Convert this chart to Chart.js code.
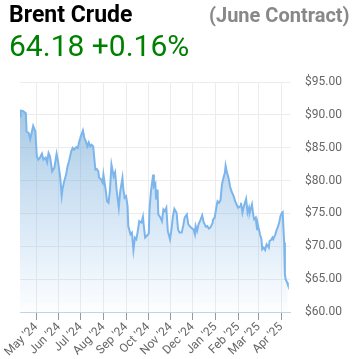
<!DOCTYPE html>
<html>
<head>
<meta charset="utf-8">
<script src="https://cdn.jsdelivr.net/npm/chart.js@4/dist/chart.umd.min.js"></script>
<style>
  html, body { margin: 0; padding: 0; background: #fff; }
  #wrap { position: relative; width: 355px; height: 359px; overflow: hidden; }
  #chart { position: absolute; left: 0; top: 0; }
  .title { position: absolute; font-family: Roboto, sans-serif; white-space: nowrap; line-height: 1; }
  #name { left: 9px; top: 3px; font-size: 23px; font-weight: bold; color: #000; }
  #contract { left: 209px; top: 5px; font-size: 20px; font-weight: bold; color: #888; }
  #price { left: 9px; top: 31px; font-size: 30px; color: #008000; }
</style>
</head>
<body>
<div id="wrap">
  <canvas id="chart" width="355" height="359"></canvas>
  <div class="title" id="name">Brent Crude</div>
  <div class="title" id="contract">(June Contract)</div>
  <div class="title" id="price">64.18 +0.16%</div>
</div>
<script>
// Daily closes, June Brent contract
const dates = [
  '2024-04-09','2024-04-10','2024-04-13','2024-04-17','2024-04-18','2024-04-21','2024-04-23','2024-04-27','2024-04-30',
  '2024-05-02','2024-05-04','2024-05-06','2024-05-09','2024-05-11','2024-05-14','2024-05-16','2024-05-18','2024-05-20',
  '2024-05-23','2024-05-26','2024-05-29','2024-05-31',
  '2024-06-03','2024-06-05','2024-06-06','2024-06-08','2024-06-11','2024-06-13','2024-06-15','2024-06-18','2024-06-20',
  '2024-06-22','2024-06-25','2024-06-27','2024-06-29',
  '2024-07-01','2024-07-04','2024-07-06','2024-07-08','2024-07-10','2024-07-12','2024-07-14','2024-07-16','2024-07-18',
  '2024-07-21','2024-07-23','2024-07-25','2024-07-26','2024-07-29','2024-07-31',
  '2024-08-01','2024-08-04','2024-08-06','2024-08-08','2024-08-10','2024-08-12','2024-08-15','2024-08-17','2024-08-19',
  '2024-08-22','2024-08-24','2024-08-27','2024-08-28','2024-08-30',
  '2024-09-01','2024-09-03','2024-09-04','2024-09-07','2024-09-09','2024-09-11','2024-09-13','2024-09-15','2024-09-17',
  '2024-09-19','2024-09-22','2024-09-24','2024-09-25','2024-09-27','2024-09-30',
  '2024-10-02','2024-10-03','2024-10-05','2024-10-08','2024-10-09','2024-10-11','2024-10-12','2024-10-14','2024-10-15',
  '2024-10-18','2024-10-20','2024-10-22','2024-10-24','2024-10-26','2024-10-28','2024-10-31',
  '2024-11-02','2024-11-04','2024-11-06','2024-11-09','2024-11-11','2024-11-13','2024-11-16','2024-11-18','2024-11-20',
  '2024-11-23','2024-11-25','2024-11-27','2024-11-29',
  '2024-12-02','2024-12-04','2024-12-05','2024-12-07','2024-12-09','2024-12-12','2024-12-14','2024-12-16','2024-12-19',
  '2024-12-21','2024-12-23','2024-12-25','2024-12-28','2024-12-29','2024-12-31',
  '2025-01-03','2025-01-04','2025-01-06','2025-01-08','2025-01-10','2025-01-12','2025-01-14','2025-01-15','2025-01-17',
  '2025-01-19','2025-01-21','2025-01-23','2025-01-26','2025-01-28','2025-01-30',
  '2025-02-01','2025-02-04','2025-02-05','2025-02-07','2025-02-09','2025-02-12','2025-02-14','2025-02-16','2025-02-17',
  '2025-02-20','2025-02-22','2025-02-23','2025-02-25','2025-02-27','2025-02-28',
  '2025-03-02','2025-03-03','2025-03-05','2025-03-06','2025-03-08','2025-03-10','2025-03-12','2025-03-15','2025-03-16',
  '2025-03-18','2025-03-20','2025-03-21','2025-03-24','2025-03-26','2025-03-27','2025-03-29','2025-03-31',
  '2025-04-02','2025-04-03','2025-04-05','2025-04-06','2025-04-07','2025-04-09','2025-04-10'
];
const prices = [
  89.74, 90.65, 90.60, 90.26, 87.47, 87.23, 86.32, 88.33, 87.47,
  83.68, 83.18, 83.44, 84.09, 83.18, 83.49, 82.77, 84.20, 83.68,
  81.41, 81.97, 84.09, 82.93,
  80.46, 77.73, 78.64, 79.70, 80.91, 82.17, 82.93, 84.44, 84.96,
  84.70, 85.11, 84.96, 85.96,
  86.71, 87.62, 86.47, 85.96, 85.20, 85.80, 85.20, 85.45, 85.20,
  81.67, 81.77, 81.41, 80.46, 80.15, 79.65,
  80.91, 78.64, 76.86, 76.62, 78.64, 82.42, 80.65, 81.26, 78.64,
  75.87, 78.38, 80.41, 78.89, 77.38,
  77.62, 76.11, 73.08, 71.82, 72.08, 69.44, 71.32, 71.06, 72.32,
  73.83, 73.59, 74.50, 73.33, 71.32, 71.67,
  71.97, 75.61, 78.38, 80.91, 79.14, 79.55, 77.12, 78.64, 74.85,
  74.35, 73.83, 75.61, 75.35, 75.87, 72.32, 71.06,
  72.58, 74.59, 75.71, 75.11, 72.58, 72.08, 72.08, 73.08, 74.35,
  74.85, 73.33, 73.08, 72.83,
  72.58, 71.82, 73.08, 72.32, 73.33, 74.09, 74.70, 73.68, 72.98,
  73.08, 72.68, 72.83, 73.49, 74.09, 74.35,
  76.36, 76.86, 76.62, 77.02, 79.40, 80.41, 81.17, 82.27, 81.17,
  80.41, 79.14, 78.38, 77.62, 76.86, 76.36,
  75.87, 76.11, 76.62, 75.11, 76.11, 77.23, 75.11, 75.87, 75.11,
  76.36, 74.59, 74.09, 74.35, 72.58, 73.33,
  72.32, 71.82, 71.06, 69.55, 69.80, 69.44, 70.30, 69.80, 70.80,
  70.96, 71.32, 71.06, 71.82, 72.58, 72.83, 73.49, 74.59,
  75.11, 75.20, 70.56, 65.76, 65.00, 64.50, 64.18
];
const monthTicks = [
  '2024-05-01','2024-06-01','2024-07-01','2024-08-01','2024-09-01','2024-10-01',
  '2024-11-01','2024-12-01','2025-01-01','2025-02-01','2025-03-01','2025-04-01'
];
const monthNames = ['Jan','Feb','Mar','Apr','May','Jun','Jul','Aug','Sep','Oct','Nov','Dec'];
const yTicks = [60, 65, 70, 75, 80, 85, 90, 95];
const xMin = '2024-04-09';
const xMax = '2025-04-13';

const points = dates.map((d, i) => ({ x: Date.parse(d), y: prices[i] }));

function fillGradient(context) {
  const chart = context.chart;
  const area = chart.chartArea;
  if (!area) return 'rgba(110,165,205,0.4)';
  const g = chart.ctx.createLinearGradient(0, area.top, 0, area.bottom);
  g.addColorStop(0, 'rgba(110,165,205,0.7)');
  g.addColorStop(1, 'rgba(124,181,236,0.02)');
  return g;
}

const ctx = document.getElementById('chart').getContext('2d');
new Chart(ctx, {
  type: 'line',
  data: {
    datasets: [{
      data: points,
      borderColor: '#7cb5ec',
      borderWidth: 2,
      backgroundColor: fillGradient,
      fill: 'start',
      pointRadius: 0,
      tension: 0
    }]
  },
  options: {
    responsive: false,
    animation: false,
    layout: { padding: { top: 82, left: 20, right: 0, bottom: 0 } },
    plugins: { legend: { display: false }, tooltip: { enabled: false } },
    scales: {
      x: {
        type: 'linear',
        min: Date.parse(xMin),
        max: Date.parse(xMax),
        afterBuildTicks: (axis) => {
          axis.ticks = monthTicks.map(t => ({ value: Date.parse(t) }));
        },
        afterFit: (axis) => {
          axis.paddingLeft = 0;
          axis.paddingRight = 0;
          axis.height = 47;
        },
        grid: { color: '#ececec', tickColor: '#999', tickLength: 8 },
        border: { color: '#c5d3e6', width: 1 },
        ticks: {
          autoSkip: false,
          maxRotation: 45,
          minRotation: 45,
          padding: 0,
          color: '#666',
          font: { family: 'Roboto', size: 12 },
          callback: (v) => {
            const d = new Date(v);
            return monthNames[d.getUTCMonth()] + " '" + String(d.getUTCFullYear()).slice(2);
          }
        }
      },
      y: {
        position: 'right',
        min: 60,
        max: 95,
        afterBuildTicks: (axis) => {
          axis.ticks = yTicks.map(v => ({ value: v }));
        },
        afterFit: (axis) => {
          axis.width = 65;
          axis.paddingTop = 0;
          axis.paddingBottom = 0;
        },
        grid: { color: '#ececec', drawTicks: false },
        border: { display: false },
        ticks: {
          padding: 15,
          color: '#666',
          font: { family: 'Roboto', size: 12 },
          callback: (v) => '$' + v.toFixed(2)
        }
      }
    }
  }
});
</script>
</body>
</html>
